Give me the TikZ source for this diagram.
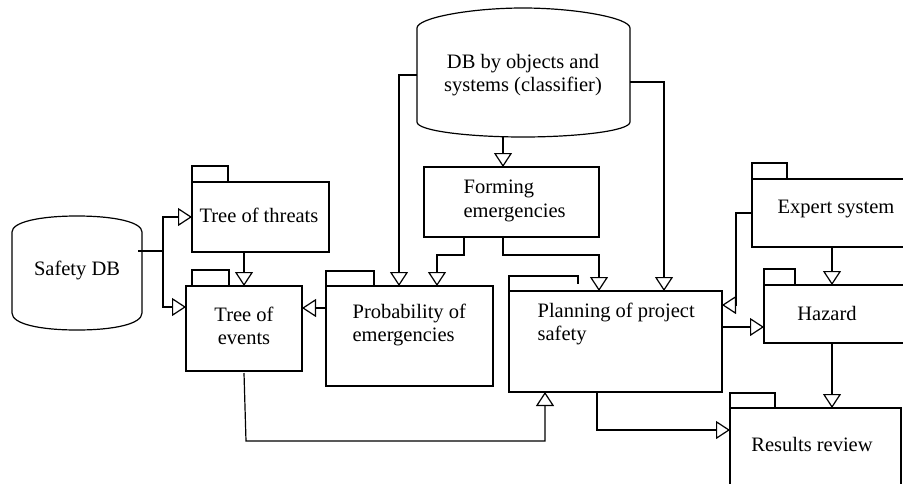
\documentclass[tikz,border=0pt]{standalone}
\usepackage{fontspec}
\setmainfont{Liberation Serif}
\usetikzlibrary{arrows.meta,calc}
\begin{document}
\begin{tikzpicture}[x=1pt,y=-1pt,line width=1.2pt,
  pkg/.style n args={2}{draw, rectangle, minimum width=#1, minimum height=#2, anchor=north west, inner sep=0pt, outer sep=0pt},
  tx/.style={inner sep=0pt, font=\fontsize{20.5}{23.5}\selectfont},
  arr/.style={-{Triangle[open,length=14pt,width=18pt]}}]
\clip (0,0) rectangle (903,483);
\fill[white] (0,0) rectangle (903,483);
% Cylinders
\draw (12,313) -- (12,232) .. controls (12,222) and (40,216) .. (77,216) .. controls (114,216) and (142,222) .. (142,232)
  -- (142,313) .. controls (142,324) and (114,330) .. (77,330) .. controls (40,330) and (12,324) .. (12,313) -- cycle;
\node[tx] (sdbtext) at (77,270) {Safety DB};
\coordinate (sdbout) at (138,251);
\draw (417,122) -- (417,28) .. controls (417,18) and (470,8) .. (523,8) .. controls (576,8) and (630,18) .. (630,28)
  -- (630,122) .. controls (630,131) and (576,137) .. (523,137) .. controls (470,137) and (417,131) .. (417,122) -- cycle;
\node[tx, align=center] (dbtext) at (523,75) {DB by objects and\\systems (classifier)};
\coordinate (dbleft) at (417,75);
\coordinate (dbright) at (630,82);
\coordinate (dbbottom) at (503,137);
% Boxes
\node[pkg={137pt}{70pt}] (threats) at (192,182) {};
\draw (threats.north west) -- ++(0,-16) -- ++(36,0) -- ++(0,16);
\node[tx] (threatstext) at (259,215) {Tree of threats};

\node[pkg={116pt}{85pt}] (events) at (186,286) {};
\draw ([xshift=6pt]events.north west) -- ++(0,-16) -- ++(37,0) -- ++(0,16);
\node[tx, align=center] (eventstext) at (244,326) {Tree of\\events};

\node[pkg={167pt}{100pt}] (prob) at (326,286) {};
\draw (prob.north west) -- ++(0,-15) -- ++(48,0) -- ++(0,15);
\node[tx, align=left, anchor=west] (probtext) at (352,325) {Probability of\\emergencies};

\node[pkg={175pt}{70pt}] (forming) at (424,167) {};
\node[tx, align=left, anchor=west] (formingtext) at (463,201) {Forming\\emergencies};

\node[pkg={213pt}{101pt}] (plan) at (509,291) {};
\draw (plan.north west) -- ++(0,-15) -- ++(69,0) -- ++(0,8);
\node[tx, align=left, anchor=west] (plantext) at (537,324) {Planning of project\\safety};

\node[pkg={160pt}{68pt}] (expert) at (752,179) {};
\draw (expert.north west) -- ++(0,-16) -- ++(35,0) -- ++(0,16);
\node[tx] (experttext) at (836,209) {Expert system};

\node[pkg={160pt}{58pt}] (hazard) at (764,285) {};
\draw (hazard.north west) -- ++(0,-16) -- ++(31,0) -- ++(0,16);
\node[tx] (hazardtext) at (827,313) {Hazard};

\node[pkg={171pt}{90pt}] (results) at (730,408) {};
\draw (results.north west) -- ++(0,-15) -- ++(45,0) -- ++(0,15);
\node[tx] (resultstext) at (812,444) {Results review};

% Connectors
\draw (sdbout) -- (163,251) coordinate (j1);
\draw[arr] (j1) |- (threats.west);
\draw[arr] (j1) |- ([yshift=-21pt]events.north west);
\draw[arr] (events.north |- threats.south) -- (events.north);
\draw[arr] (prob.west |- 0,308) -- (events.east |- 0,308);
\draw[arr] (dbleft) -| (399,286);
\draw[arr] (dbbottom) -- (forming.north -| dbbottom);
\draw[arr] (forming.south -| 464,0) -- (464,255) -| (437,286);
\draw[arr] (forming.south -| 503,0) -- (503,255) -| (599,291);
\draw[arr] (dbright) -| (664,291);
\draw[arr] ([yshift=-2pt]events.south) -- (246,441) -| (545,392);
\draw[arr] (expert.west |- 0,213) -- (736,213) |- (plan.east |- 0,305);
\draw[arr] (plan.east |- 0,327) -- (hazard.west |- 0,327);
\draw[arr] (832,247) -- (832,285);
\draw[arr] (832,343) -- (832,408);
\draw[arr] (597,392) |- (results.west |- 0,430);
\end{tikzpicture}
\end{document}
